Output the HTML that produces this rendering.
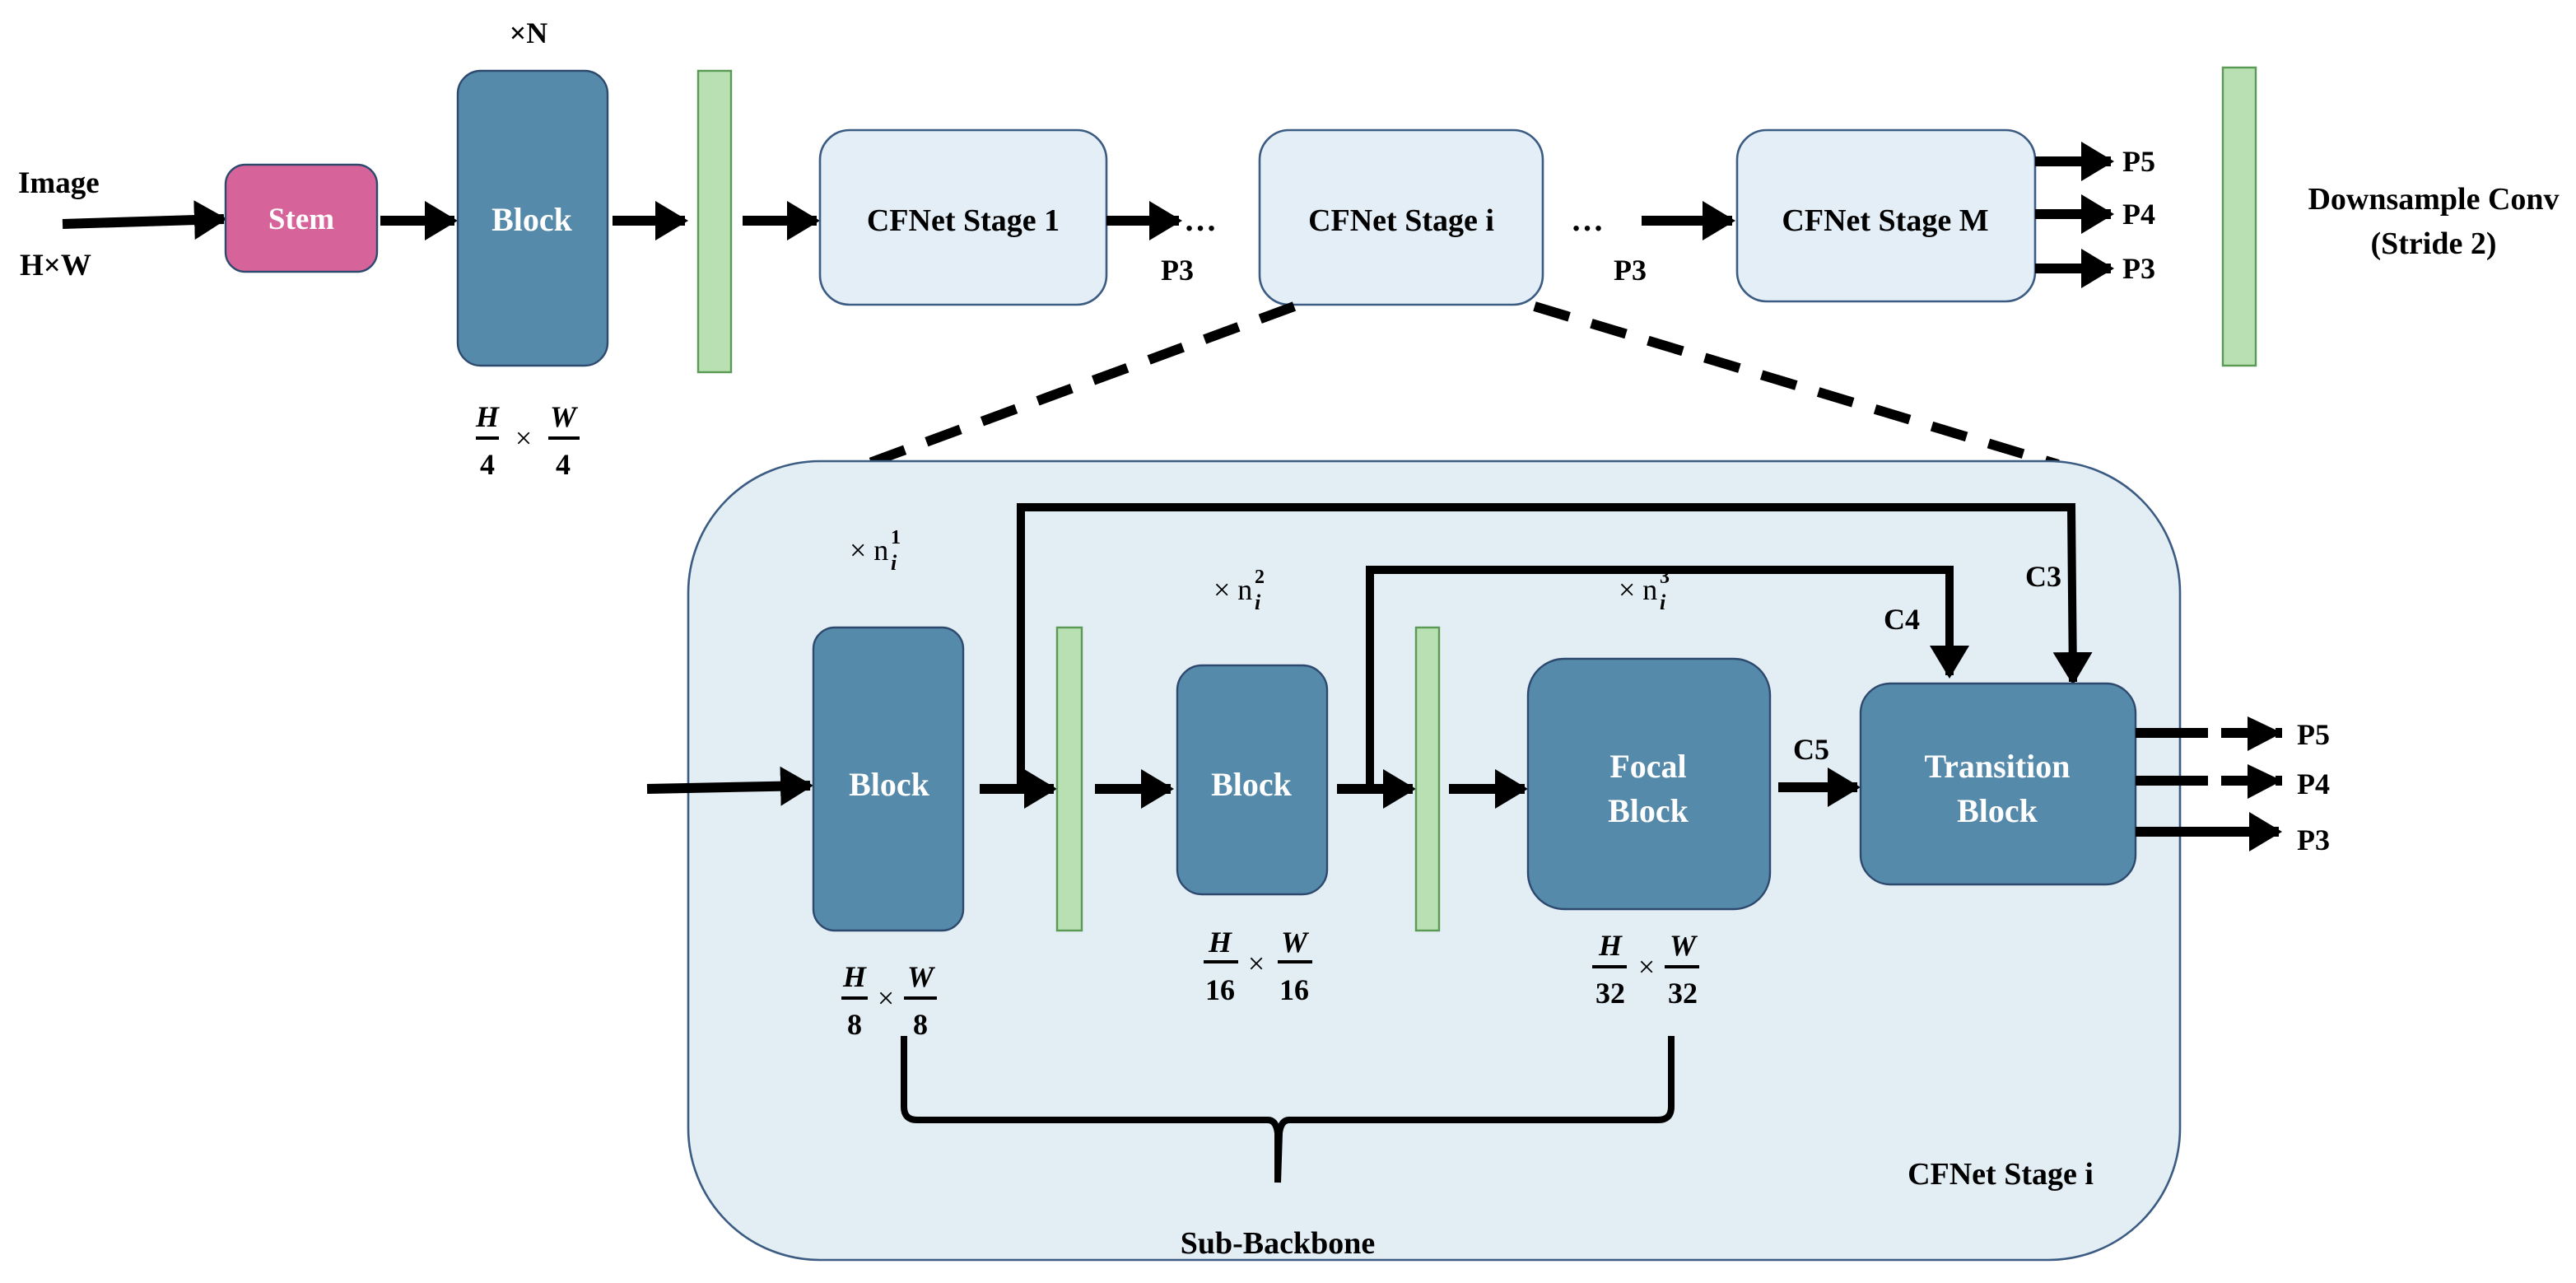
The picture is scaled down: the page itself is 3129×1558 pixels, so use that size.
<!DOCTYPE html>
<html><head><meta charset="utf-8"><style>
html,body{margin:0;padding:0;background:#fff;}
svg{display:block;}
text{font-family:"Liberation Serif",serif;font-weight:bold;fill:#000;}
.w{fill:#fff;}
.m{font-weight:normal;}
.i{font-style:italic;}
</style></head><body>
<svg width="3129" height="1558" viewBox="0 0 1564.5 779" xmlns="http://www.w3.org/2000/svg">
<defs>
<marker id="a" markerUnits="userSpaceOnUse" markerWidth="20" markerHeight="24" refX="18" refY="12" orient="auto">
<polygon points="0,0 20,12 0,24" fill="#000"/></marker>
</defs>
<rect width="1564.5" height="779" fill="#fff"/>

<!-- top row -->
<text x="11" y="117" font-size="18.5">Image</text>
<text x="12" y="167" font-size="18.5">H×W</text>
<line x1="38" y1="136" x2="136" y2="133" stroke="#000" stroke-width="6" marker-end="url(#a)"/>
<rect x="137" y="100" width="92" height="65" rx="12" fill="#d6649a" stroke="#2d4a6e" stroke-width="1.2"/>
<text x="183" y="139" font-size="18.5" class="w" text-anchor="middle">Stem</text>
<line x1="231" y1="134" x2="276" y2="134" stroke="#000" stroke-width="6" marker-end="url(#a)"/>
<rect x="278" y="43" width="91" height="179" rx="14" fill="#568aaa" stroke="#2d4a6e" stroke-width="1.2"/>
<text x="323" y="140" font-size="20" class="w" text-anchor="middle">Block</text>
<text x="321" y="26" font-size="18" text-anchor="middle">×N</text>
<g font-size="18">
<text x="296" y="259" class="i" text-anchor="middle">H</text>
<line x1="289" y1="266" x2="303" y2="266" stroke="#000" stroke-width="2"/>
<text x="296" y="288" text-anchor="middle">4</text>
<text x="318" y="272" class="m" text-anchor="middle">×</text>
<text x="342" y="259" class="i" text-anchor="middle">W</text>
<line x1="333" y1="266" x2="352" y2="266" stroke="#000" stroke-width="2"/>
<text x="342" y="288" text-anchor="middle">4</text>
</g>
<line x1="372" y1="134" x2="416" y2="134" stroke="#000" stroke-width="6" marker-end="url(#a)"/>
<rect x="424" y="43" width="20" height="183" fill="#b9e0b2" stroke="#5a9a55" stroke-width="1.2"/>
<line x1="451" y1="134" x2="496" y2="134" stroke="#000" stroke-width="6" marker-end="url(#a)"/>

<rect x="498" y="79" width="174" height="106" rx="18" fill="#e3eef6" stroke="#3b5b82" stroke-width="1.3"/>
<text x="585" y="140" font-size="19" text-anchor="middle">CFNet Stage 1</text>
<line x1="672" y1="134" x2="716" y2="134" stroke="#000" stroke-width="6" marker-end="url(#a)"/>
<text x="719" y="140" font-size="20">…</text>
<text x="715" y="170" font-size="18" text-anchor="middle">P3</text>

<rect x="765" y="79" width="172" height="106" rx="18" fill="#e3eef6" stroke="#3b5b82" stroke-width="1.3"/>
<text x="851" y="140" font-size="19" text-anchor="middle">CFNet Stage i</text>
<text x="954" y="140" font-size="20">…</text>
<text x="990" y="170" font-size="18" text-anchor="middle">P3</text>
<line x1="997" y1="134" x2="1052" y2="134" stroke="#000" stroke-width="6" marker-end="url(#a)"/>

<rect x="1055" y="79" width="181" height="104" rx="18" fill="#e3eef6" stroke="#3b5b82" stroke-width="1.3"/>
<text x="1145" y="140" font-size="19" text-anchor="middle">CFNet Stage M</text>
<line x1="1236" y1="98" x2="1282" y2="98" stroke="#000" stroke-width="6" marker-end="url(#a)"/>
<line x1="1236" y1="130" x2="1282" y2="130" stroke="#000" stroke-width="6" marker-end="url(#a)"/>
<line x1="1236" y1="163" x2="1282" y2="163" stroke="#000" stroke-width="6" marker-end="url(#a)"/>
<text x="1289" y="104" font-size="18">P5</text>
<text x="1289" y="136" font-size="18">P4</text>
<text x="1289" y="169" font-size="18">P3</text>
<rect x="1350" y="41" width="20" height="181" fill="#b9e0b2" stroke="#5a9a55" stroke-width="1.2"/>
<text x="1478" y="127" font-size="19" text-anchor="middle">Downsample Conv</text>
<text x="1478" y="154" font-size="19" text-anchor="middle">(Stride 2)</text>

<!-- dashed zoom lines -->
<line x1="786" y1="186" x2="512" y2="287" stroke="#000" stroke-width="6" stroke-dasharray="22,14"/>
<line x1="932" y1="186" x2="1250" y2="282" stroke="#000" stroke-width="6" stroke-dasharray="22,14"/>

<!-- big panel -->
<rect x="418" y="280" width="906" height="485" rx="80" fill="#e3edf4" stroke="#3b5b82" stroke-width="1.3"/>

<line x1="393" y1="479" x2="492" y2="477" stroke="#000" stroke-width="6" marker-end="url(#a)"/>
<rect x="494" y="381" width="91" height="184" rx="13" fill="#568aaa" stroke="#2d4a6e" stroke-width="1.2"/>
<text x="540" y="483" font-size="20" class="w" text-anchor="middle">Block</text>
<text x="516" y="340" font-size="18" class="m">× n</text>
<text x="541" y="330" font-size="12">1</text>
<text x="541" y="346" font-size="13" class="i">i</text>
<g font-size="18">
<text x="519" y="599" class="i" text-anchor="middle">H</text>
<line x1="511" y1="606" x2="527" y2="606" stroke="#000" stroke-width="2"/>
<text x="519" y="628" text-anchor="middle">8</text>
<text x="538" y="612" class="m" text-anchor="middle">×</text>
<text x="559" y="599" class="i" text-anchor="middle">W</text>
<line x1="549" y1="606" x2="569" y2="606" stroke="#000" stroke-width="2"/>
<text x="559" y="628" text-anchor="middle">8</text>
</g>

<!-- C3 path -->
<polyline points="620,479 620,308 1258,308 1259,414" fill="none" stroke="#000" stroke-width="5" marker-end="url(#a)"/>
<line x1="595" y1="479" x2="640" y2="479" stroke="#000" stroke-width="6" marker-end="url(#a)"/>
<rect x="642" y="381" width="15" height="184" fill="#b9e0b2" stroke="#5a9a55" stroke-width="1.2"/>
<line x1="665" y1="479" x2="711" y2="479" stroke="#000" stroke-width="6" marker-end="url(#a)"/>
<rect x="715" y="404" width="91" height="139" rx="15" fill="#568aaa" stroke="#2d4a6e" stroke-width="1.2"/>
<text x="760" y="483" font-size="20" class="w" text-anchor="middle">Block</text>
<text x="737" y="364" font-size="18" class="m">× n</text>
<text x="762" y="354" font-size="12">2</text>
<text x="762" y="370" font-size="13" class="i">i</text>
<g font-size="18">
<text x="741" y="578" class="i" text-anchor="middle">H</text>
<line x1="731" y1="584" x2="752" y2="584" stroke="#000" stroke-width="2"/>
<text x="741" y="607" text-anchor="middle">16</text>
<text x="763" y="591" class="m" text-anchor="middle">×</text>
<text x="786" y="578" class="i" text-anchor="middle">W</text>
<line x1="776" y1="584" x2="797" y2="584" stroke="#000" stroke-width="2"/>
<text x="786" y="607" text-anchor="middle">16</text>
</g>

<!-- C4 path -->
<polyline points="832,479 832,346 1184,346 1184,410" fill="none" stroke="#000" stroke-width="5" marker-end="url(#a)"/>
<line x1="812" y1="479" x2="858" y2="479" stroke="#000" stroke-width="6" marker-end="url(#a)"/>
<rect x="860" y="381" width="14" height="184" fill="#b9e0b2" stroke="#5a9a55" stroke-width="1.2"/>
<line x1="880" y1="479" x2="926" y2="479" stroke="#000" stroke-width="6" marker-end="url(#a)"/>
<rect x="928" y="400" width="147" height="152" rx="22" fill="#568aaa" stroke="#2d4a6e" stroke-width="1.2"/>
<text x="1001" y="472" font-size="20" class="w" text-anchor="middle">Focal</text>
<text x="1001" y="499" font-size="20" class="w" text-anchor="middle">Block</text>
<text x="983" y="364" font-size="18" class="m">× n</text>
<text x="1008" y="354" font-size="12">3</text>
<text x="1008" y="370" font-size="13" class="i">i</text>
<g font-size="18">
<text x="978" y="580" class="i" text-anchor="middle">H</text>
<line x1="967" y1="587" x2="988" y2="587" stroke="#000" stroke-width="2"/>
<text x="978" y="609" text-anchor="middle">32</text>
<text x="1000" y="593" class="m" text-anchor="middle">×</text>
<text x="1022" y="580" class="i" text-anchor="middle">W</text>
<line x1="1011" y1="587" x2="1032" y2="587" stroke="#000" stroke-width="2"/>
<text x="1022" y="609" text-anchor="middle">32</text>
</g>

<line x1="1080" y1="478" x2="1128" y2="478" stroke="#000" stroke-width="6" marker-end="url(#a)"/>
<text x="1100" y="461" font-size="18" text-anchor="middle">C5</text>
<text x="1155" y="382" font-size="18" text-anchor="middle">C4</text>
<text x="1241" y="356" font-size="18" text-anchor="middle">C3</text>

<rect x="1130" y="415" width="167" height="122" rx="18" fill="#568aaa" stroke="#2d4a6e" stroke-width="1.2"/>
<text x="1213" y="472" font-size="20" class="w" text-anchor="middle">Transition</text>
<text x="1213" y="499" font-size="20" class="w" text-anchor="middle">Block</text>

<line x1="1297" y1="445" x2="1341" y2="445" stroke="#000" stroke-width="6"/>
<line x1="1347" y1="445" x2="1386" y2="445" stroke="#000" stroke-width="6" stroke-dasharray="23,10" stroke-dashoffset="-2"/>
<line x1="1297" y1="474" x2="1341" y2="474" stroke="#000" stroke-width="6"/>
<line x1="1347" y1="474" x2="1386" y2="474" stroke="#000" stroke-width="6" stroke-dasharray="23,10" stroke-dashoffset="-2"/>
<polygon points="1365,435 1386,445 1365,456" fill="#000"/>
<polygon points="1365,464 1386,474 1365,485" fill="#000"/>
<line x1="1297" y1="505" x2="1384" y2="505" stroke="#000" stroke-width="6" marker-end="url(#a)"/>
<text x="1395" y="452" font-size="18">P5</text>
<text x="1395" y="482" font-size="18">P4</text>
<text x="1395" y="516" font-size="18">P3</text>

<!-- brace -->
<path d="M549,629 L549,672 Q549,680 557,680 L770,680 Q775,680 776,688 L776,718 M776,718 L777,688 Q778,680 783,680 L1007,680 Q1015,680 1015,672 L1015,629" fill="none" stroke="#000" stroke-width="4"/>
<text x="776" y="761" font-size="19" text-anchor="middle">Sub-Backbone</text>
<text x="1215" y="719" font-size="19" text-anchor="middle">CFNet Stage i</text>
</svg>
</body></html>
